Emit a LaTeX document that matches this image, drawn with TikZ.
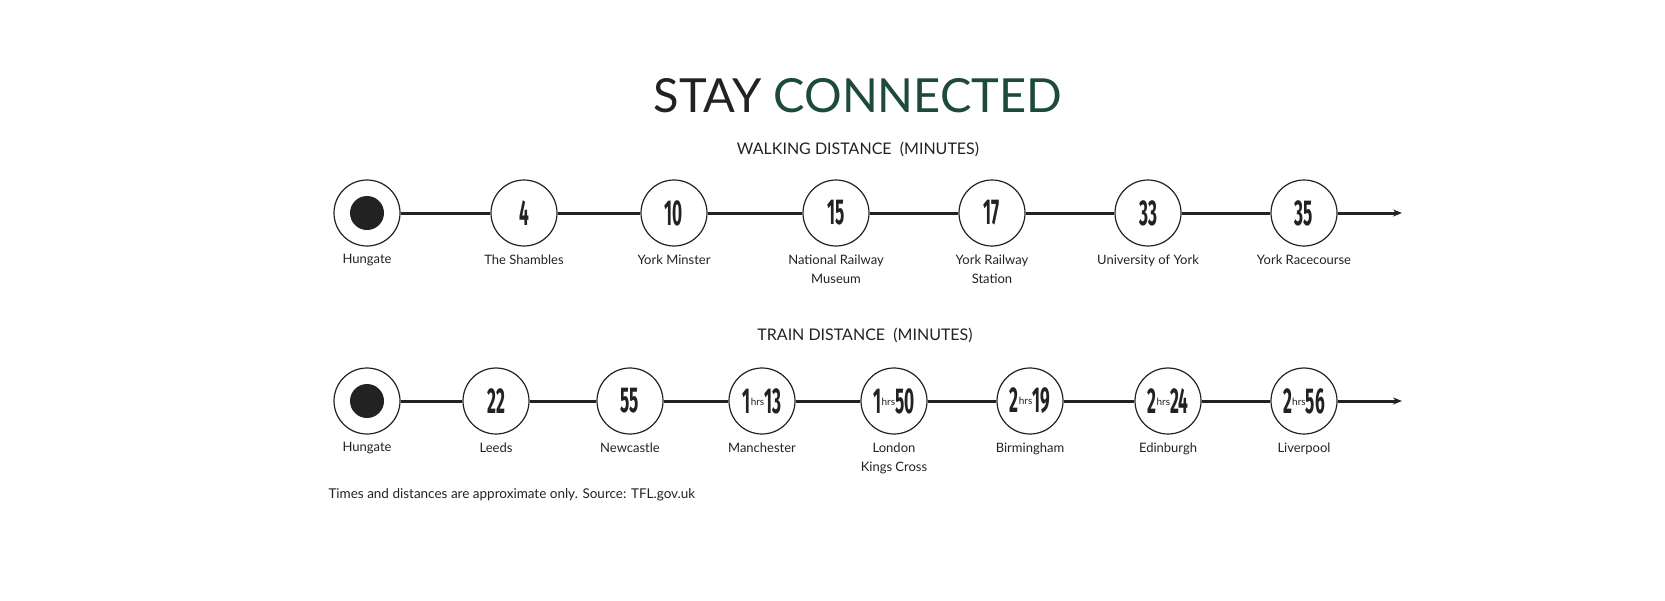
\documentclass[tikz,border=0pt]{standalone}
\usepackage{fontspec}
\setmainfont{Lato}
\newfontfamily\numfont{Fira Sans}
\usetikzlibrary{arrows.meta}
\definecolor{darkgreen}{HTML}{1D4A3A}
\definecolor{inkgray}{HTML}{222222}
\newcommand{\bignum}[1]{\scalebox{0.48}[1]{\numfont\bfseries\fontsize{36}{36}\selectfont #1}}
\newcommand{\hrsnum}[2]{\bignum{#1}\raisebox{8pt}{\fontsize{10}{10}\selectfont hrs}\bignum{#2}}
\tikzset{
  stop/.style={circle, draw=inkgray, line width=1.2pt, fill=white, minimum size=66pt, inner sep=0pt, text=inkgray},
  place/.style={anchor=north, align=center, text=inkgray, font=\fontsize{13}{19}\selectfont},
  heading/.style={text=inkgray, font=\fontsize{16}{18}\selectfont},
  track/.style={line width=3pt, draw=inkgray},
}
\begin{document}
\begin{tikzpicture}[x=1pt, y=-1pt, line join=round, >={Stealth[length=9pt,width=7pt]}]
  \useasboundingbox (0,0) rectangle (1665,600);

  % Title
  \node[text=inkgray, font=\fontsize{47}{50}\selectfont] (title) at (858,96) {STAY \textcolor{darkgreen}{CONNECTED}};

  % Walking distance
  \node[heading] (walkhead) at (858,149) {WALKING DISTANCE \ (MINUTES)};
  \node[stop] (w0) at (367,213) {};
  \node[stop] (w1) at (524,213) {\bignum{4}};
  \node[stop] (w2) at (674,213) {\bignum{10}};
  \node[stop] (w3) at (836,213) {\bignum{15}};
  \node[stop] (w4) at (992,213) {\bignum{17}};
  \node[stop] (w5) at (1148,213) {\bignum{33}};
  \node[stop] (w6) at (1304,213) {\bignum{35}};
  \coordinate (wend) at (1402,213);
  \fill[inkgray] (w0) circle[radius=17pt];
  \draw[track] (w0) -- (w1);
  \draw[track] (w1) -- (w2);
  \draw[track] (w2) -- (w3);
  \draw[track] (w3) -- (w4);
  \draw[track] (w4) -- (w5);
  \draw[track] (w5) -- (w6);
  \draw[track, ->] (w6) -- (wend);
  \node[place] (w0t) at (367,251) {Hungate};
  \node[place] (w1t) at (524,251) {The Shambles};
  \node[place] (w2t) at (674,251) {York Minster};
  \node[place] (w3t) at (836,251) {National Railway\\Museum};
  \node[place] (w4t) at (992,251) {York Railway\\Station};
  \node[place] (w5t) at (1148,251) {University of York};
  \node[place] (w6t) at (1304,251) {York Racecourse};

  % Train distance
  \node[heading] (trainhead) at (865,335) {TRAIN DISTANCE \ (MINUTES)};
  \node[stop] (t0) at (367,401) {};
  \node[stop] (t1) at (496,401) {\bignum{22}};
  \node[stop] (t2) at (630,401) {\bignum{55}};
  \node[stop] (t3) at (762,401) {\hrsnum{1}{13}};
  \node[stop] (t4) at (894,401) {\hrsnum{1}{50}};
  \node[stop] (t5) at (1030,401) {\hrsnum{2}{19}};
  \node[stop] (t6) at (1168,401) {\hrsnum{2}{24}};
  \node[stop] (t7) at (1304,401) {\hrsnum{2}{56}};
  \coordinate (tend) at (1402,401);
  \fill[inkgray] (t0) circle[radius=17pt];
  \draw[track] (t0) -- (t1);
  \draw[track] (t1) -- (t2);
  \draw[track] (t2) -- (t3);
  \draw[track] (t3) -- (t4);
  \draw[track] (t4) -- (t5);
  \draw[track] (t5) -- (t6);
  \draw[track] (t6) -- (t7);
  \draw[track, ->] (t7) -- (tend);
  \node[place] (t0t) at (367,439) {Hungate};
  \node[place] (t1t) at (496,439) {Leeds};
  \node[place] (t2t) at (630,439) {Newcastle};
  \node[place] (t3t) at (762,439) {Manchester};
  \node[place] (t4t) at (894,439) {London\\Kings Cross};
  \node[place] (t5t) at (1030,439) {Birmingham};
  \node[place] (t6t) at (1168,439) {Edinburgh};
  \node[place] (t7t) at (1304,439) {Liverpool};

  % Source note
  \node[anchor=west, text=inkgray, font=\fontsize{13.5}{15}\selectfont] (note) at (325,495) {Times and distances are approximate only. Source: TFL.gov.uk};
\end{tikzpicture}
\end{document}
